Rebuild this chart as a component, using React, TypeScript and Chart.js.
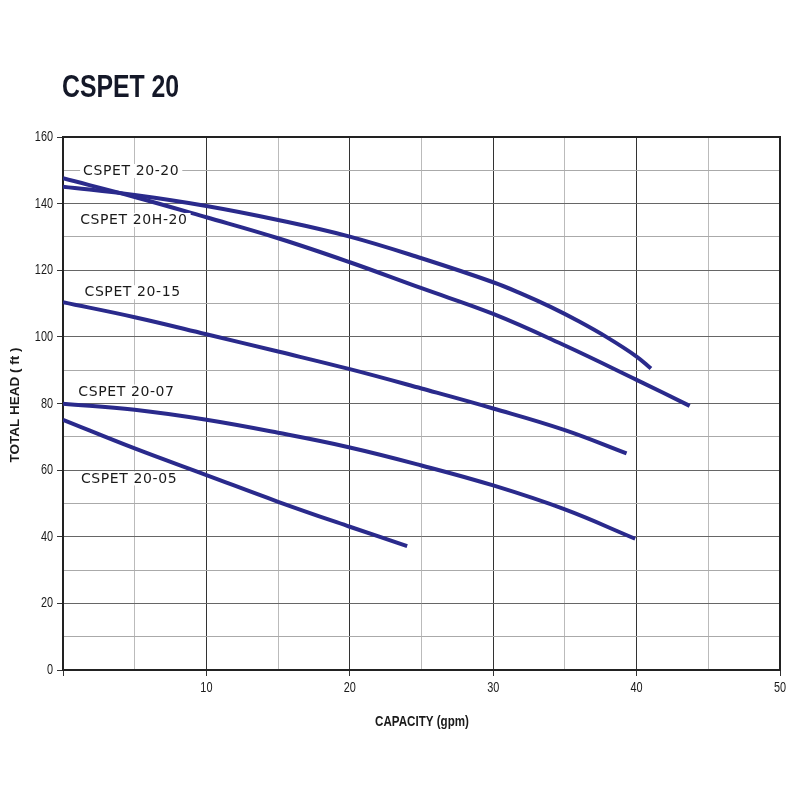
import React, { useEffect, useRef } from "react";
import { Chart, registerables } from "chart.js";

Chart.register(...registerables);

const title = "CSPET 20";
const xTitle = "CAPACITY (gpm)";
const yTitle = "TOTAL HEAD ( ft )";

const s2020X = [0, 5, 10, 15, 20, 25, 30, 32, 34, 36, 38, 40, 41];
const s2020Y = [145.1, 142.6, 139.3, 135.1, 130.1, 123.6, 116.4, 112.9, 109.0, 104.6, 99.7, 94.1, 90.5];

const s20H20X = [0, 5, 10, 15, 20, 25, 30, 35, 40, 43.7];
const s20H20Y = [147.6, 142.0, 135.9, 129.6, 122.4, 114.6, 106.9, 97.4, 87.1, 79.3];

const s2015X = [0, 5, 10, 15, 20, 25, 30, 35, 39.3];
const s2015Y = [110.4, 105.9, 100.8, 95.6, 90.3, 84.5, 78.5, 72.0, 65.0];

const s2007X = [0, 5, 10, 15, 20, 25, 30, 35, 39.9];
const s2007Y = [79.9, 78.1, 75.1, 71.2, 66.8, 61.4, 55.4, 48.2, 39.4];

const s2005X = [0, 5, 10, 15, 20, 24];
const s2005Y = [75.1, 66.5, 58.5, 50.5, 43.0, 37.2];

const seriesNames = ["CSPET 20-20", "CSPET 20H-20", "CSPET 20-15", "CSPET 20-07", "CSPET 20-05"];
const seriesX = [s2020X, s20H20X, s2015X, s2007X, s2005X];
const seriesY = [s2020Y, s20H20Y, s2015Y, s2007Y, s2005Y];

const labelX = [1.4, 1.2, 1.5, 1.07, 1.25];
const labelY = [149.8, 135.1, 113.4, 83.6, 57.5];

const LINE = "#2a2a8c";
const COND = "'Liberation Sans', Arial, sans-serif";

export default function App() {
  const ref = useRef<HTMLCanvasElement | null>(null);
  useEffect(() => {
    if (!ref.current) return;
    const datasets = seriesNames.map((name, i) => ({
      label: name,
      data: seriesX[i].map((x, j) => ({ x, y: seriesY[i][j] })),
      borderColor: LINE,
      borderWidth: 4,
      pointRadius: 0,
      tension: 0.4,
      fill: false,
      borderCapStyle: "butt" as const,
    }));

    const drawCondensed = (ctx: any, text: string, x: number, y: number, font: string, sx: number, align: string) => {
      ctx.save();
      ctx.font = font;
      const w = ctx.measureText(text).width * sx;
      let left = x;
      if (align === "center") left = x - w / 2;
      if (align === "right") left = x - w;
      ctx.translate(left, y);
      ctx.scale(sx, 1);
      ctx.textAlign = "left";
      ctx.fillText(text, 0, 0);
      ctx.restore();
    };

    const overlay = {
      id: "overlay",
      beforeDatasetsDraw(chart: any) {
        const { ctx, chartArea } = chart;
        ctx.save();
        ctx.strokeStyle = "#222";
        ctx.lineWidth = 2;
        ctx.strokeRect(chartArea.left, chartArea.top, chartArea.right - chartArea.left, chartArea.bottom - chartArea.top);
        ctx.restore();
      },
      afterDatasetsDraw(chart: any) {
        const { ctx, scales } = chart;
        ctx.save();
        ctx.font = "14px 'DejaVu Sans', sans-serif";
        (ctx as any).letterSpacing = "0.6px";
        ctx.textBaseline = "middle";
        ctx.textAlign = "left";
        seriesNames.forEach((name, i) => {
          const px = scales.x.getPixelForValue(labelX[i]);
          const py = scales.y.getPixelForValue(labelY[i]);
          const w = ctx.measureText(name).width;
          ctx.fillStyle = "#fff";
          ctx.fillRect(px - 3, py - 7, w + 6, 14);
          ctx.fillStyle = "#1a1a1a";
          ctx.fillText(name, px, py + 0.5);
        });
        (ctx as any).letterSpacing = "0px";
        ctx.restore();

        ctx.save();
        ctx.fillStyle = "#141828";
        ctx.textBaseline = "alphabetic";
        drawCondensed(ctx, title, 62, 97, "bold 32px " + COND, 0.775, "left");

        ctx.fillStyle = "#1a1a1a";
        ctx.textBaseline = "middle";
        const tf = "14.5px " + COND;
        for (let v = 10; v <= 50; v += 10) {
          drawCondensed(ctx, String(v), scales.x.getPixelForValue(v), 688, tf, 0.75, "center");
        }
        for (let v = 0; v <= 160; v += 20) {
          drawCondensed(ctx, String(v), 53, scales.y.getPixelForValue(v), tf, 0.75, "right");
        }
        drawCondensed(ctx, xTitle, 422, 722, "bold 14.5px " + COND, 0.8, "center");
        ctx.save();
        ctx.translate(15, 405);
        ctx.rotate(-Math.PI / 2);
        ctx.font = "bold 13.5px " + COND;
        ctx.textAlign = "center";
        ctx.fillText(yTitle, 0, 0);
        ctx.restore();
        ctx.restore();
      },
    };

    const chart = new Chart(ref.current, {
      type: "line",
      data: { datasets },
      plugins: [overlay],
      options: {
        animation: false,
        responsive: false,
        maintainAspectRatio: false,
        layout: { padding: { top: 137, right: 20, left: 0, bottom: 0 } },
        plugins: { legend: { display: false }, tooltip: { enabled: false }, title: { display: false } },
        scales: {
          x: {
            type: "linear",
            min: 0,
            max: 50,
            border: { display: false },
            ticks: {
              stepSize: 5,
              autoSkip: false,
              maxRotation: 0,
              color: "rgba(0,0,0,0)",
              callback: () => "",
            },
            grid: {
              drawTicks: true,
              tickLength: 6,
              color: (c: any) => (c.tick && c.tick.value % 10 === 0 ? "#333" : "#bbb"),
              tickColor: (c: any) => (c.tick && c.tick.value % 10 === 0 ? "#333" : "rgba(0,0,0,0)"),
              lineWidth: 1,
            },
            afterFit: (s: any) => { s.height = 130; },
          },
          y: {
            type: "linear",
            min: 0,
            max: 160,
            border: { display: false },
            ticks: {
              stepSize: 10,
              autoSkip: false,
              color: "rgba(0,0,0,0)",
              callback: () => "",
            },
            grid: {
              drawTicks: true,
              tickLength: 6,
              color: (c: any) => (c.tick && c.tick.value % 20 === 0 ? "#666" : "#aaa"),
              tickColor: (c: any) => (c.tick && c.tick.value % 20 === 0 ? "#333" : "rgba(0,0,0,0)"),
              lineWidth: 1,
            },
            afterFit: (s: any) => { s.width = 63; },
          },
        },
      },
    });
    return () => chart.destroy();
  }, []);
  return (
    <div style={{ position: "absolute", left: 0, top: 0, width: 800, height: 800, background: "#fff" }}>
      <canvas ref={ref} width={800} height={800} style={{ width: 800, height: 800 }} />
    </div>
  );
}
